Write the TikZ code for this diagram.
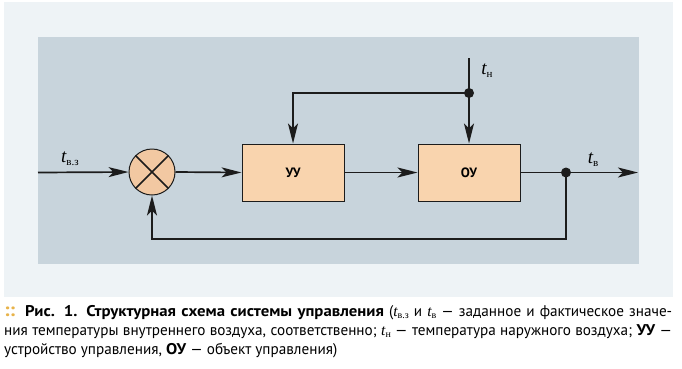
\documentclass[tikz,border=0pt]{standalone}
\usepackage{fontspec}
\setmainfont{PT Sans}
\newfontfamily\capfont{PT Sans}[FakeStretch=0.98,BoldFeatures={FakeStretch=1.08}]
\newfontfamily\serifit{Liberation Serif}
\usetikzlibrary{arrows.meta}
\definecolor{outerbg}{HTML}{EEF3F6}
\definecolor{panelbg}{HTML}{C8D4DC}
\definecolor{boxfill}{HTML}{F9D4AE}
\definecolor{sumfill}{HTML}{F2C8A2}
\definecolor{ink}{HTML}{1C1C1C}
\definecolor{gold}{HTML}{E8B34A}
\newcommand{\tvar}[1]{{\serifit\itshape t}\raisebox{-3pt}{\serifit\fontsize{11}{11}\selectfont #1}}
\newcommand{\tcap}[1]{{\serifit\itshape t}\raisebox{-2.5pt}{\serifit\fontsize{10}{10}\selectfont #1}}
\begin{document}
\begin{tikzpicture}[x=1pt,y=-1pt,
  line/.style={draw=ink,line width=1.7pt},
  arr/.style={line,-{Stealth[length=20pt,width=10pt,inset=5pt]}},
  blockbox/.style={draw=ink,line width=1pt,fill=boxfill,minimum width=102pt,minimum height=57pt,inner sep=0pt,font=\bfseries\fontsize{13.5}{13.5}\selectfont},
  sumnode/.style={circle,draw=ink,line width=1pt,fill=sumfill,minimum size=46pt,inner sep=0pt},
  jdot/.style={circle,fill=ink,minimum size=10pt,inner sep=0pt},
  lbl/.style={font=\fontsize{19}{19}\selectfont,inner sep=0pt}]
\useasboundingbox (0,0) rectangle (682,368);
\fill[white] (0,0) rectangle (682,368);
\fill[outerbg] (4,2) rectangle (673,297);
\fill[panelbg] (38,37) rectangle (639,264);
% nodes
\node[sumnode] (sum) at (152,172) {};
\draw[ink,line width=1.5pt] (sum.north west) -- (sum.south east) (sum.north east) -- (sum.south west);
\node[blockbox] (uu) at (293,172.5) {УУ};
\node[blockbox] (ou) at (469,172.5) {ОУ};
\node[jdot] (d1) at (566,172.5) {};
\node[jdot] (d2) at (469,93) {};
\coordinate (in) at (38,172.5);
\coordinate (out) at (638,172.5);
\coordinate (tn) at (469,58);
\coordinate (fbr) at (566,239);
\coordinate (fbl) at (152,239);
\coordinate (ul) at (293,93);
% connectors
\draw[arr] (in) -- (sum.west);
\draw[arr] (sum.east) -- (uu.west);
\draw[arr] (uu.east) -- (ou.west);
\draw[line] (ou.east) -- (d1.center);
\draw[arr] (d1.center) -- (out);
\draw[arr] (d1.center) -- (fbr) -- (fbl) -- (sum.south);
\draw[line] (tn) -- (d2.center);
\draw[arr] (d2.center) -- (ou.north);
\draw[arr] (d2.center) -- (ul) -- (uu.north);
% labels
\node[lbl] (l1) at (70,159) {\tvar{в.з}};
\node[lbl] (l2) at (487,71) {\tvar{н}};
\node[lbl] (l3) at (593,160) {\tvar{в}};
% caption
\node[anchor=north west,inner sep=0pt,text width=668pt,align=justify,font=\capfont\fontsize{15.5}{19}\selectfont] (cap) at (4,305)
{\textcolor{gold}{\textbf{\fontsize{19}{19}\selectfont::}}\hspace{10pt}\textbf{Рис. 1. Структурная схема системы управления} (\tcap{в.з} и \tcap{в} — заданное и фактическое значе-\linebreak ния температуры внутреннего воздуха, соответственно; \tcap{н} — температура наружного воздуха; \textbf{УУ}~—\linebreak устройство управления, \textbf{ОУ} — объект управления)};
\end{tikzpicture}
\end{document}
